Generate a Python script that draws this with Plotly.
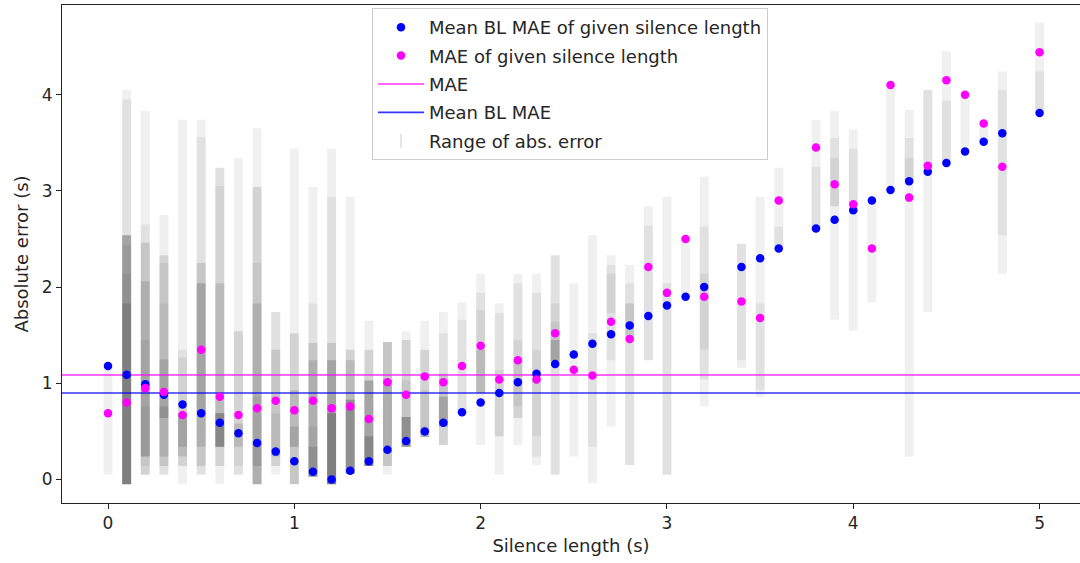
import plotly.graph_objects as go

# ---------------- data ----------------
silence_len = [0.0, 0.1, 0.2, 0.3, 0.4, 0.5, 0.6, 0.7, 0.8, 0.9,
               1.0, 1.1, 1.2, 1.3, 1.4, 1.5, 1.6, 1.7, 1.8, 1.9,
               2.0, 2.1, 2.2, 2.3, 2.4, 2.5, 2.6, 2.7, 2.8, 2.9,
               3.0, 3.1, 3.2, 3.4, 3.5, 3.6, 3.8, 3.9,
               4.0, 4.1, 4.2, 4.3, 4.4, 4.5, 4.6, 4.7, 4.8, 5.0]

bl_mae = [1.18, 1.09, 0.99, 0.88, 0.78, 0.69, 0.59, 0.48, 0.38, 0.29,
          0.19, 0.08, 0.00, 0.09, 0.19, 0.31, 0.40, 0.50, 0.59, 0.70,
          0.80, 0.90, 1.01, 1.10, 1.20, 1.30, 1.41, 1.51, 1.60, 1.70,
          1.81, 1.90, 2.00, 2.21, 2.30, 2.40, 2.61, 2.70,
          2.80, 2.90, 3.01, 3.10, 3.20, 3.29, 3.41, 3.51, 3.60, 3.81]

mae = [0.69, 0.80, 0.95, 0.91, 0.67, 1.35, 0.86, 0.67, 0.74, 0.82,
       0.72, 0.82, 0.74, 0.76, 0.63, 1.01, 0.88, 1.07, 1.01, 1.18,
       1.39, 1.04, 1.24, 1.04, 1.52, 1.14, 1.08, 1.64, 1.46, 2.21,
       1.94, 2.50, 1.90, 1.85, 1.68, 2.90, 3.45, 3.07,
       2.86, 2.40, 4.10, 2.93, 3.26, 4.15, 4.00, 3.70, 3.25, 4.44]

mae_overall = 1.086
bl_mae_overall = 0.90

# per silence length: list of (low, high) absolute-error ranges
abs_err_ranges = [
    [(0.05, 1.21)],
    [(-0.05, 4.05), (-0.05, 3.95), (-0.05, 2.54), (-0.05, 2.54), (-0.05, 2.54), (-0.05, 2.54),
     (-0.05, 2.54), (-0.05, 2.44), (-0.05, 2.14), (-0.05, 1.83), (-0.05, 1.83)],
    [(0.05, 3.83), (0.05, 2.65), (0.05, 2.46), (0.14, 2.46), (0.24, 2.06), (0.24, 2.06),
     (0.24, 1.45), (0.24, 0.76)],
    [(0.05, 2.75), (0.05, 2.33), (0.14, 2.33), (0.14, 2.25), (0.24, 1.83), (0.24, 1.25),
     (0.64, 1.25), (0.64, 0.76), (0.64, 0.76)],
    [(-0.05, 3.74), (0.14, 1.35), (0.14, 1.27), (0.24, 0.69), (0.24, 0.69), (0.34, 0.69), (0.34, 0.69)],
    [(0.05, 3.74), (0.05, 3.56), (0.14, 2.25), (0.14, 2.25), (0.34, 2.04), (0.34, 2.04), (0.69, 2.04)],
    [(-0.05, 3.24), (0.14, 3.24), (0.14, 3.05), (0.34, 2.04), (0.34, 2.04), (0.34, 0.69),
     (0.34, 0.69), (0.34, 0.69), (0.34, 0.69), (0.34, 0.69)],
    [(0.05, 3.34), (0.05, 1.54), (0.14, 1.54), (0.34, 0.58), (0.34, 0.58)],
    [(-0.05, 3.65), (-0.05, 3.04), (-0.05, 3.04), (-0.05, 2.25), (-0.05, 1.83), (-0.05, 1.83),
     (0.14, 0.86), (0.14, 0.38)],
    [(0.05, 1.74), (0.14, 1.74), (0.14, 1.35), (0.24, 1.35), (0.24, 0.69)],
    [(-0.05, 3.44), (-0.05, 1.52), (-0.05, 1.52), (-0.05, 0.93), (0.34, 0.93), (0.34, 0.55), (0.34, 0.55)],
    [(0.03, 3.04), (0.03, 1.83), (0.03, 1.42), (0.03, 1.42), (0.03, 1.24), (0.03, 1.24),
     (0.03, 0.55), (0.03, 0.34), (0.03, 0.34)],
    [(-0.05, 3.44), (-0.05, 2.94), (-0.05, 1.42), (-0.05, 1.42), (-0.05, 1.24), (-0.05, 1.24),
     (-0.05, 1.24), (-0.05, 0.69), (-0.05, 0.69), (-0.05, 0.69), (-0.05, 0.69)],
    [(0.06, 2.94), (0.06, 1.35), (0.06, 1.35), (0.06, 1.24), (0.06, 1.24), (0.06, 0.83),
     (0.06, 0.83), (0.06, 0.83), (0.06, 0.83)],
    [(0.14, 1.65), (0.14, 1.35), (0.14, 1.35), (0.14, 1.03), (0.14, 1.03), (0.14, 1.03),
     (0.14, 1.03), (0.14, 0.45), (0.14, 0.45), (0.14, 0.45)],
    [(0.05, 1.43), (0.14, 1.43), (0.14, 1.43), (0.14, 1.43), (0.34, 1.03), (0.34, 1.03)],
    [(0.34, 1.54), (0.34, 1.45), (0.34, 1.45), (0.34, 1.03), (0.34, 0.65), (0.34, 0.65),
     (0.34, 0.65), (0.34, 0.65), (0.34, 0.65)],
    [(0.44, 1.65), (0.44, 1.35), (0.44, 1.35), (0.44, 0.93), (0.44, 0.55)],
    [(0.36, 1.74), (0.36, 1.52), (0.36, 1.10), (0.55, 1.10), (0.55, 0.86), (0.55, 0.86), (0.55, 0.86)],
    [(0.69, 1.84), (0.69, 1.66)],
    [(0.36, 2.14), (0.90, 1.94), (0.90, 1.76), (0.90, 1.35), (0.90, 1.35)],
    [(0.05, 1.83), (0.45, 1.73), (0.45, 1.14)],
    [(0.36, 2.14), (0.64, 2.04), (0.64, 1.45), (0.76, 1.23)],
    [(0.15, 2.14), (0.24, 1.94), (0.45, 1.35)],
    [(0.05, 2.33), (0.05, 2.33), (1.23, 1.83), (1.23, 1.64), (1.23, 1.45), (1.23, 1.45), (1.23, 1.45)],
    [(0.24, 2.04)],
    [(-0.04, 2.54), (0.34, 1.52)],
    [(0.55, 2.33), (1.24, 2.23), (1.73, 2.14)],
    [(0.15, 2.23), (0.15, 2.04), (1.47, 1.83), (1.47, 1.83)],
    [(1.24, 2.84), (1.24, 2.64)],
    [(0.05, 2.94), (0.05, 2.04)],
    [(1.90, 2.53)],
    [(0.76, 3.15), (1.04, 2.63), (1.35, 2.14)],
    [(1.16, 2.45), (1.24, 2.45)],
    [(0.86, 2.94), (0.93, 1.83)],
    [(2.39, 3.24), (2.39, 2.63)],
    [(2.59, 3.74), (2.59, 3.25)],
    [(1.66, 3.83), (2.84, 3.55), (2.84, 3.34)],
    [(1.55, 3.64), (2.84, 3.44)],
    [(1.84, 2.89)],
    [(3.01, 4.10)],
    [(0.24, 3.84), (3.11, 3.55), (3.11, 3.34)],
    [(1.74, 4.05), (3.20, 4.05)],
    [(3.30, 4.45), (3.30, 3.94)],
    [(3.41, 4.00)],
    [(3.51, 3.70)],
    [(2.14, 4.24), (2.54, 4.05)],
    [(3.81, 4.75), (3.81, 4.24)],
]

x_ticks = [0, 1, 2, 3, 4, 5]
y_ticks = [0, 1, 2, 3, 4]
X_RANGE = [-0.247, 5.217]
Y_RANGE = [-0.244, 4.932]

FONT = "DejaVu Sans"
TXT = "#262626"

fig = go.Figure()

# translucent range segments, stacked layer by layer so overlaps darken
n_layers = max(len(r) for r in abs_err_ranges)
for k in range(n_layers):
    xs, ys = [], []
    for x, rr in zip(silence_len, abs_err_ranges):
        if k < len(rr):
            lo, hi = rr[k]
            xs += [x, x, None]
            ys += [lo, hi, None]
    fig.add_trace(go.Scatter(x=xs, y=ys, mode="lines",
                             line=dict(color="rgba(0,0,0,0.058)", width=9),
                             showlegend=False, hoverinfo="skip"))

# overall lines
fig.add_trace(go.Scatter(x=X_RANGE, y=[mae_overall, mae_overall], mode="lines",
                         line=dict(color="rgba(255,0,255,0.8)", width=1.6),
                         name="MAE", legendrank=3, legendgroup="g3"))
fig.add_trace(go.Scatter(x=X_RANGE, y=[bl_mae_overall, bl_mae_overall], mode="lines",
                         line=dict(color="rgba(0,0,255,0.8)", width=1.6),
                         name="Mean BL MAE", legendrank=4, legendgroup="g4"))

# points
fig.add_trace(go.Scatter(x=silence_len, y=bl_mae, mode="markers",
                         marker=dict(color="#0000ff", size=8.5),
                         name="Mean BL MAE of given silence length", legendrank=1, legendgroup="g1"))
fig.add_trace(go.Scatter(x=silence_len, y=mae, mode="markers",
                         marker=dict(color="#ff00ff", size=8.5),
                         name="MAE of given silence length", legendrank=2, legendgroup="g2"))

# legend entry for range segments
fig.add_trace(go.Scatter(x=[None], y=[None], mode="markers",
                         marker=dict(symbol="line-ns-open", size=10, color="rgba(0,0,0,0.2)",
                                     line=dict(width=1, color="rgba(0,0,0,0.2)")),
                         name="Range of abs. error", legendrank=5, legendgroup="g5"))

fig.update_layout(
    width=1080, height=563,
    margin=dict(l=62, r=0, t=5, b=60),
    paper_bgcolor="white", plot_bgcolor="white",
    font=dict(family=FONT, size=18, color=TXT),
    legend=dict(x=0.3045, y=0.994, xanchor="left", yanchor="top",
                bgcolor="rgba(255,255,255,0.9)", bordercolor="#cccccc", borderwidth=1,
                font=dict(size=18, color=TXT), tracegroupgap=2, itemwidth=46,
                traceorder="grouped"),
)
fig.update_xaxes(range=X_RANGE, tickvals=x_ticks, showgrid=False, zeroline=False,
                 showline=True, linecolor="#222", linewidth=1, mirror=True,
                 ticks="outside", ticklen=5, tickcolor="#222", tickfont=dict(size=17),
                 title=dict(text="Silence length (s)", font=dict(size=18), standoff=6))
fig.update_yaxes(range=Y_RANGE, tickvals=y_ticks, showgrid=False, zeroline=False,
                 showline=True, linecolor="#222", linewidth=1,
                 ticks="outside", ticklen=5, tickcolor="#222", tickfont=dict(size=17),
                 title=dict(text="Absolute error (s)", font=dict(size=18), standoff=8))

fig.write_html("out.html")
